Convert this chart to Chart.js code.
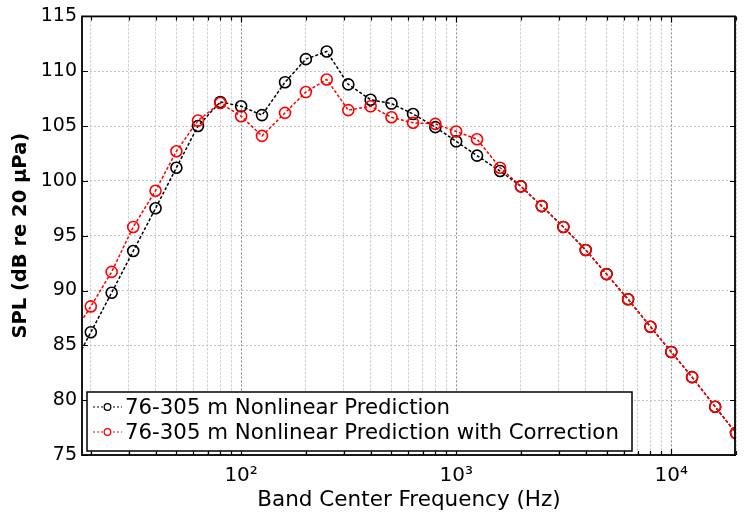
<!DOCTYPE html>
<html>
<head>
<meta charset="utf-8">
<script src="https://cdn.jsdelivr.net/npm/chart.js@4.4.1/dist/chart.umd.min.js"></script>
<style>
  html, body { margin: 0; padding: 0; background: #fff; }
  #wrap { width: 745px; height: 518px; }
</style>
</head>
<body>
<div id="wrap"><canvas id="myChart" width="745" height="518"></canvas></div>
<script>
// one-third octave band centres (Hz); 16 Hz sits just left of the axis
const freqs = [16, 20, 25, 31.5, 40, 50, 63, 80, 100, 125, 160, 200, 250, 315, 400, 500, 630, 800,
    1000, 1250, 1600, 2000, 2500, 3150, 4000, 5000, 6300, 8000, 10000, 12500, 16000, 20000];

const nonlinear = [82.6, 86.2, 89.8, 93.6, 97.5, 101.2, 105.0, 107.2, 106.8, 106.0, 109.0, 111.1, 111.8,
    108.8, 107.4, 107.05, 106.1, 104.9, 103.6, 102.3, 100.9,
    99.5, 97.7, 95.8, 93.7, 91.5, 89.2, 86.7, 84.4, 82.1, 79.4, 77.0];

const corrected = [85.6, 88.55, 91.7, 95.8, 99.1, 102.7, 105.5, 107.1, 105.9, 104.1, 106.2, 108.1, 109.25,
    106.45, 106.8, 105.8, 105.3, 105.2, 104.5, 103.8, 101.2,
    99.5, 97.7, 95.8, 93.7, 91.5, 89.2, 86.7, 84.4, 82.1, 79.4, 77.0];

const seriesNames = ['76-305 m Nonlinear Prediction', '76-305 m Nonlinear Prediction with Correction'];
const seriesColors = ['#000000', '#ff0000'];

const yTicks = [75, 80, 85, 90, 95, 100, 105, 110, 115];
const xDecades = [100, 1000, 10000];
const xTickLabels = { 100: '10\u00b2', 1000: '10\u00b3', 10000: '10\u2074' };

const FONT = '"DejaVu Sans", "Liberation Sans", Arial, sans-serif';

function xGridValues() {
    const vals = [];
    [10, 100, 1000, 10000].forEach(d => {
        for (let m = 1; m <= 9; m++) {
            const v = m * d;
            if (v >= 18.2 && v <= 20000) vals.push(v);
        }
    });
    return vals;
}

const frameAndLegend = {
    id: 'frameAndLegend',
    afterDraw(chart) {
        const { ctx, chartArea: a, scales } = chart;
        ctx.save();
        // inward tick marks
        ctx.strokeStyle = '#000';
        ctx.lineWidth = 1.2;
        xGridValues().forEach(v => {
            const x = Math.round(scales.x.getPixelForValue(v)) + 0.5;
            const len = xDecades.includes(v) ? 6 : 4;
            ctx.beginPath();
            ctx.moveTo(x, a.top); ctx.lineTo(x, a.top + len);
            ctx.moveTo(x, a.bottom); ctx.lineTo(x, a.bottom - len);
            ctx.stroke();
        });
        yTicks.forEach(v => {
            const y = Math.round(scales.y.getPixelForValue(v)) + 0.5;
            ctx.beginPath();
            ctx.moveTo(a.left, y); ctx.lineTo(a.left + 6, y);
            ctx.moveTo(a.right, y); ctx.lineTo(a.right - 6, y);
            ctx.stroke();
        });
        // plot frame
        ctx.lineWidth = 1.8;
        ctx.strokeRect(a.left, a.top, a.right - a.left - 1, a.bottom - a.top);

        // legend box inside plot, lower left
        const bx = 87, by = 392, bw = 545, bh = 59;
        ctx.fillStyle = '#fff';
        ctx.fillRect(bx, by, bw, bh);
        ctx.lineWidth = 1.5;
        ctx.strokeStyle = '#000';
        ctx.strokeRect(bx, by, bw, bh);
        ctx.font = '21.3px ' + FONT;
        ctx.textBaseline = 'middle';
        ctx.textAlign = 'left';
        seriesNames.forEach((name, i) => {
            const cy = by + 15 + i * 25;
            ctx.strokeStyle = seriesColors[i];
            ctx.lineWidth = 1.2;
            ctx.setLineDash([2, 2]);
            ctx.beginPath();
            ctx.moveTo(93, cy); ctx.lineTo(122, cy);
            ctx.stroke();
            ctx.setLineDash([]);
            ctx.fillStyle = '#fff';
            ctx.beginPath();
            ctx.arc(107.5, cy, 3.3, 0, Math.PI * 2);
            ctx.fill();
            ctx.lineWidth = 1.3;
            ctx.stroke();
            ctx.fillStyle = '#000';
            ctx.fillText(name, 125, cy + 1);
        });
        ctx.restore();
    }
};

function makeSet(i, values, order) {
    return {
        label: seriesNames[i],
        data: freqs.map((f, k) => ({ x: f, y: values[k] })),
        order: order,
        borderColor: seriesColors[i],
        backgroundColor: 'rgba(0,0,0,0)',
        borderWidth: 1.5,
        borderDash: [3, 2],
        pointRadius: 5.5,
        pointBorderWidth: 1.6,
        pointBackgroundColor: 'rgba(0,0,0,0)',
        pointBorderColor: seriesColors[i],
        tension: 0
    };
}

document.addEventListener('DOMContentLoaded', function () {
    const ctx = document.getElementById('myChart').getContext('2d');
    new Chart(ctx, {
        type: 'line',
        // red series drawn on top of the black one
        data: { datasets: [makeSet(0, nonlinear, 2), makeSet(1, corrected, 1)] },
        options: {
            responsive: false,
            animation: false,
            layout: { padding: { top: 14, right: 0, left: 0, bottom: 0 } },
            plugins: { legend: { display: false }, tooltip: { enabled: false } },
            scales: {
                x: {
                    type: 'logarithmic',
                    min: 18.2,
                    max: 20000,
                    afterBuildTicks: scale => { scale.ticks = xGridValues().map(v => ({ value: v })); },
                    afterFit: scale => { scale.height = 63; },
                    ticks: {
                        autoSkip: false,
                        maxRotation: 0,
                        padding: 9,
                        color: '#000',
                        font: { family: FONT, size: 20 },
                        callback: v => xTickLabels[v] || ''
                    },
                    grid: {
                        drawTicks: false,
                        color: ctx => (ctx.tick && xDecades.includes(ctx.tick.value)) ? '#8a8a8a' : '#c4c4c4',
                        lineWidth: 1
                    },
                    border: { display: false, dash: [2, 2] },
                    title: {
                        display: true,
                        text: 'Band Center Frequency (Hz)',
                        color: '#000',
                        font: { family: FONT, size: 21.5 },
                        padding: { top: 0, bottom: 5 }
                    }
                },
                y: {
                    min: 75,
                    max: 115,
                    afterBuildTicks: scale => { scale.ticks = yTicks.map(v => ({ value: v })); },
                    afterFit: scale => { scale.width = 82; },
                    ticks: {
                        padding: 5,
                        color: '#000',
                        font: { family: FONT, size: 19 }
                    },
                    grid: { drawTicks: false, color: '#c4c4c4', lineWidth: 1 },
                    border: { display: false, dash: [2, 2] },
                    title: {
                        display: true,
                        text: 'SPL (dB re 20 \u03bcPa)',
                        color: '#000',
                        font: { family: FONT, size: 19.5, weight: 'bold' },
                        padding: { top: 9, bottom: 0 }
                    }
                }
            }
        },
        plugins: [frameAndLegend]
    });
});
</script>
</body>
</html>
